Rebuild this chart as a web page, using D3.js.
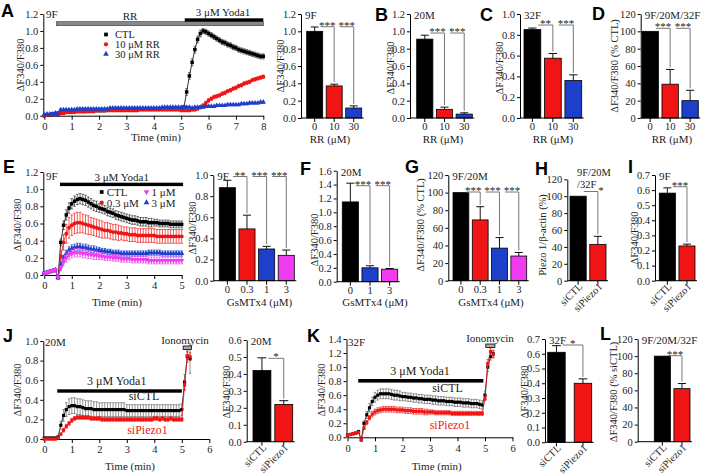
<!DOCTYPE html>
<html>
<head>
<meta charset="utf-8">
<script src="https://cdn.jsdelivr.net/npm/d3@7"></script>
<style>
  body { margin: 0; background: #fff; }
  svg text { font-family: "Liberation Serif", "Times New Roman", serif; fill: #222; }
  .letter { font-family: "Liberation Sans", Arial, sans-serif; font-weight: bold; font-size: 18px; fill: #000; }
</style>
</head>
<body>
<script>
// ---------- time courses ----------
const tA = [0,0.1,0.2,0.3,0.4,0.5,0.6,0.7,0.8,0.9,
  1,1.1,1.2,1.3,1.4,1.5,1.6,1.7,1.8,1.9,
  2,2.1,2.2,2.3,2.4,2.5,2.6,2.7,2.8,2.9,
  3,3.1,3.2,3.3,3.4,3.5,3.6,3.7,3.8,3.9,
  4,4.1,4.2,4.3,4.4,4.5,4.6,4.7,4.8,4.9,
  5,5.1,5.2,5.3,5.4,5.5,5.6,5.7,5.8,5.9,
  6,6.1,6.2,6.3,6.4,6.5,6.6,6.7,6.8,6.9,
  7,7.1,7.2,7.3,7.4,7.5,7.6,7.7,7.8,7.9,
  8];
const ctlA = [0.00,0.01,0.01,0.02,0.02,0.03,0.03,0.03,0.04,0.04,
  0.04,0.05,0.05,0.05,0.05,0.05,0.06,0.06,0.06,0.06,
  0.06,0.06,0.06,0.07,0.07,0.07,0.07,0.07,0.07,0.07,
  0.07,0.07,0.07,0.08,0.08,0.08,0.08,0.08,0.08,0.08,
  0.08,0.08,0.08,0.08,0.08,0.08,0.08,0.08,0.08,0.08,
  0.08,0.10,0.28,0.47,0.63,0.78,0.90,0.97,1.00,0.99,
  0.97,0.95,0.93,0.91,0.89,0.87,0.86,0.84,0.83,0.81,
  0.80,0.78,0.77,0.76,0.75,0.74,0.73,0.72,0.71,0.70,
  0.70];
const semCtlA = [0.01,0.01,0.01,0.01,0.01,0.01,0.01,0.01,0.01,0.01,
  0.01,0.01,0.01,0.01,0.01,0.01,0.01,0.01,0.01,0.01,
  0.01,0.01,0.01,0.01,0.01,0.01,0.01,0.01,0.01,0.01,
  0.01,0.01,0.01,0.01,0.01,0.01,0.01,0.01,0.01,0.01,
  0.01,0.01,0.01,0.01,0.01,0.01,0.01,0.01,0.01,0.01,
  0.01,0.02,0.04,0.04,0.04,0.04,0.04,0.04,0.03,0.03,
  0.03,0.03,0.03,0.03,0.03,0.03,0.03,0.03,0.03,0.03,
  0.03,0.03,0.03,0.03,0.03,0.03,0.03,0.03,0.03,0.03,
  0.03];
const rr10A = [0.00,0.01,0.01,0.02,0.02,0.03,0.03,0.03,0.04,0.04,
  0.04,0.04,0.05,0.05,0.05,0.05,0.05,0.05,0.05,0.06,
  0.06,0.06,0.06,0.06,0.06,0.06,0.06,0.06,0.06,0.06,
  0.06,0.06,0.06,0.06,0.06,0.07,0.07,0.07,0.07,0.07,
  0.07,0.07,0.07,0.07,0.07,0.07,0.07,0.07,0.07,0.07,
  0.06,0.06,0.06,0.06,0.07,0.07,0.08,0.10,0.12,0.15,
  0.18,0.20,0.22,0.23,0.24,0.26,0.27,0.29,0.30,0.32,
  0.33,0.35,0.36,0.38,0.39,0.40,0.42,0.43,0.44,0.45,
  0.46];
const semRr10A = [0.01,0.01,0.01,0.01,0.01,0.01,0.01,0.01,0.01,0.01,
  0.01,0.01,0.01,0.01,0.01,0.01,0.01,0.01,0.01,0.01,
  0.01,0.01,0.01,0.01,0.01,0.01,0.01,0.01,0.01,0.01,
  0.01,0.01,0.01,0.01,0.01,0.01,0.01,0.01,0.01,0.01,
  0.01,0.01,0.01,0.01,0.01,0.01,0.01,0.01,0.01,0.01,
  0.01,0.01,0.01,0.01,0.01,0.01,0.01,0.02,0.02,0.02,
  0.02,0.02,0.02,0.02,0.02,0.02,0.02,0.02,0.02,0.02,
  0.02,0.02,0.02,0.02,0.02,0.02,0.02,0.02,0.02,0.02,
  0.02];
const rr30A = [0.01,0.02,0.02,0.02,0.03,0.01,0.07,0.07,0.07,0.07,
  0.07,0.07,0.08,0.08,0.08,0.08,0.08,0.08,0.08,0.08,
  0.08,0.08,0.08,0.08,0.09,0.09,0.09,0.09,0.09,0.09,
  0.09,0.09,0.09,0.09,0.09,0.09,0.09,0.09,0.09,0.09,
  0.09,0.09,0.09,0.10,0.10,0.10,0.10,0.10,0.10,0.10,
  0.10,0.10,0.10,0.10,0.09,0.10,0.10,0.10,0.10,0.11,
  0.11,0.11,0.11,0.12,0.12,0.12,0.12,0.13,0.13,0.13,
  0.13,0.13,0.14,0.14,0.14,0.15,0.15,0.15,0.15,0.16,
  0.16];
const semRr30A = [0.01,0.01,0.01,0.01,0.01,0.01,0.01,0.01,0.01,0.01,
  0.01,0.01,0.01,0.01,0.01,0.01,0.01,0.01,0.01,0.01,
  0.01,0.01,0.01,0.01,0.01,0.01,0.01,0.01,0.01,0.01,
  0.01,0.01,0.01,0.01,0.01,0.01,0.01,0.01,0.01,0.01,
  0.01,0.01,0.01,0.01,0.01,0.01,0.01,0.01,0.01,0.01,
  0.01,0.01,0.01,0.01,0.01,0.01,0.01,0.01,0.01,0.01,
  0.01,0.01,0.01,0.01,0.01,0.01,0.01,0.01,0.01,0.01,
  0.01,0.01,0.01,0.01,0.01,0.01,0.01,0.01,0.01,0.01,
  0.01];

const tE = [0,0.1,0.2,0.3,0.4,0.5,0.6,0.7,0.8,0.9,
  1,1.1,1.2,1.3,1.4,1.5,1.6,1.7,1.8,1.9,
  2,2.1,2.2,2.3,2.4,2.5,2.6,2.7,2.8,2.9,
  3,3.1,3.2,3.3,3.4,3.5,3.6,3.7,3.8,3.9,
  4,4.1,4.2,4.3,4.4,4.5,4.6,4.7,4.8,4.9,
  5];
const ctlE = [0.02,0.03,0.04,0.05,0.06,-0.03,0.38,0.58,0.70,0.78,
  0.83,0.86,0.88,0.89,0.88,0.87,0.85,0.83,0.81,0.80,
  0.78,0.77,0.76,0.74,0.73,0.72,0.70,0.69,0.68,0.67,
  0.66,0.65,0.64,0.64,0.63,0.62,0.62,0.62,0.61,0.61,
  0.61,0.61,0.60,0.60,0.60,0.60,0.59,0.59,0.59,0.59,
  0.59];
const semCtlE = [0.01,0.01,0.01,0.01,0.01,0.02,0.04,0.05,0.06,0.06,
  0.06,0.06,0.06,0.06,0.06,0.06,0.06,0.06,0.06,0.06,
  0.05,0.05,0.05,0.05,0.05,0.05,0.05,0.05,0.05,0.05,
  0.05,0.05,0.05,0.05,0.05,0.05,0.05,0.05,0.05,0.05,
  0.04,0.04,0.04,0.04,0.04,0.04,0.04,0.04,0.04,0.04,
  0.04];
const gs03E = [0.02,0.03,0.04,0.05,0.06,-0.03,0.22,0.38,0.48,0.55,
  0.58,0.60,0.61,0.61,0.60,0.59,0.58,0.57,0.56,0.55,
  0.54,0.53,0.52,0.52,0.51,0.50,0.50,0.49,0.49,0.48,
  0.48,0.47,0.47,0.47,0.46,0.46,0.46,0.46,0.46,0.46,
  0.46,0.45,0.45,0.45,0.45,0.45,0.45,0.45,0.45,0.45,
  0.45];
const semGs03E = [0.01,0.01,0.01,0.01,0.01,0.02,0.06,0.09,0.11,0.12,
  0.12,0.12,0.12,0.12,0.11,0.11,0.11,0.10,0.10,0.10,
  0.10,0.10,0.09,0.09,0.09,0.09,0.09,0.09,0.08,0.08,
  0.08,0.08,0.08,0.08,0.08,0.08,0.08,0.08,0.08,0.08,
  0.08,0.08,0.08,0.08,0.08,0.08,0.08,0.08,0.08,0.08,
  0.08];
const gs1E = [0.02,0.03,0.04,0.05,0.06,-0.03,0.08,0.15,0.20,0.23,
  0.25,0.26,0.26,0.26,0.25,0.25,0.24,0.24,0.23,0.23,
  0.22,0.22,0.21,0.21,0.21,0.20,0.20,0.20,0.19,0.19,
  0.19,0.19,0.18,0.18,0.18,0.18,0.18,0.18,0.17,0.17,
  0.17,0.17,0.17,0.17,0.17,0.17,0.17,0.17,0.17,0.17,
  0.17];
const semGs1E = [0.01,0.01,0.01,0.01,0.01,0.02,0.03,0.04,0.05,0.05,
  0.05,0.05,0.05,0.05,0.05,0.05,0.05,0.05,0.05,0.05,
  0.04,0.04,0.04,0.04,0.04,0.04,0.04,0.04,0.04,0.04,
  0.04,0.04,0.04,0.04,0.04,0.04,0.04,0.04,0.04,0.04,
  0.04,0.04,0.04,0.04,0.04,0.04,0.04,0.04,0.04,0.04,
  0.04];
const gs3E = [0.02,0.03,0.04,0.05,0.06,-0.03,0.12,0.20,0.25,0.29,
  0.31,0.32,0.33,0.33,0.32,0.32,0.31,0.30,0.30,0.29,
  0.29,0.28,0.28,0.27,0.27,0.26,0.26,0.26,0.25,0.25,
  0.25,0.25,0.25,0.25,0.25,0.25,0.25,0.25,0.26,0.26,
  0.26,0.26,0.26,0.25,0.25,0.25,0.25,0.25,0.25,0.25,
  0.25];
const semGs3E = [0.01,0.01,0.01,0.01,0.01,0.02,0.03,0.03,0.04,0.04,
  0.04,0.04,0.04,0.04,0.04,0.04,0.04,0.04,0.04,0.04,
  0.03,0.03,0.03,0.03,0.03,0.03,0.03,0.03,0.03,0.03,
  0.03,0.03,0.03,0.03,0.03,0.03,0.03,0.03,0.03,0.03,
  0.03,0.03,0.03,0.03,0.03,0.03,0.03,0.03,0.03,0.03,
  0.03];

const tJK = [0,0.1,0.2,0.3,0.4,0.5,0.6,0.7,0.8,0.9,
  1,1.1,1.2,1.3,1.4,1.5,1.6,1.7,1.8,1.9,
  2,2.1,2.2,2.3,2.4,2.5,2.6,2.7,2.8,2.9,
  3,3.1,3.2,3.3,3.4,3.5,3.6,3.7,3.8,3.9,
  4,4.1,4.2,4.3,4.4,4.5,4.6,4.7,4.8,4.9,
  5,5.1,5.2,5.3];
const siCtlJ = [0.01,0.01,0.01,0.01,0.01,0.02,0.14,0.24,0.30,0.33,
  0.34,0.34,0.33,0.33,0.32,0.31,0.31,0.31,0.30,0.30,
  0.30,0.30,0.30,0.30,0.30,0.30,0.30,0.30,0.30,0.30,
  0.29,0.29,0.29,0.29,0.29,0.29,0.29,0.29,0.29,0.29,
  0.29,0.29,0.29,0.29,0.29,0.29,0.29,0.29,0.29,0.29,
  0.30,0.58,0.84,0.82];
const semSiCtlJ = [0.01,0.01,0.01,0.01,0.01,0.01,0.04,0.06,0.07,0.08,
  0.08,0.08,0.08,0.08,0.08,0.08,0.08,0.08,0.08,0.08,
  0.07,0.07,0.07,0.07,0.07,0.07,0.07,0.07,0.07,0.07,
  0.06,0.06,0.06,0.06,0.06,0.06,0.06,0.06,0.06,0.06,
  0.06,0.06,0.06,0.06,0.06,0.06,0.06,0.06,0.06,0.06,
  0.06,0.08,0.06,0.15];
const siPiezoJ = [0.00,0.00,0.00,0.00,0.00,0.01,0.05,0.09,0.13,0.16,
  0.19,0.21,0.22,0.22,0.22,0.22,0.22,0.21,0.21,0.21,
  0.21,0.20,0.20,0.20,0.20,0.20,0.20,0.20,0.20,0.20,
  0.20,0.20,0.20,0.20,0.20,0.20,0.20,0.20,0.20,0.20,
  0.21,0.21,0.20,0.21,0.20,0.20,0.21,0.20,0.20,0.20,
  0.20,0.55,0.85,0.84];
const semSiPiezoJ = [0.01,0.01,0.01,0.01,0.01,0.01,0.01,0.02,0.02,0.02,
  0.02,0.02,0.02,0.02,0.02,0.02,0.02,0.02,0.02,0.02,
  0.02,0.02,0.02,0.02,0.02,0.02,0.02,0.02,0.02,0.02,
  0.02,0.02,0.02,0.02,0.02,0.02,0.02,0.02,0.02,0.02,
  0.02,0.02,0.02,0.02,0.02,0.02,0.02,0.02,0.02,0.02,
  0.02,0.05,0.04,0.04];
const siCtlK = [0.03,0.04,0.05,0.06,0.08,-0.03,0.20,0.32,0.42,0.51,
  0.57,0.60,0.62,0.62,0.62,0.62,0.61,0.60,0.60,0.59,
  0.58,0.58,0.57,0.57,0.56,0.56,0.55,0.55,0.54,0.54,
  0.54,0.53,0.53,0.52,0.52,0.52,0.51,0.51,0.51,0.50,
  0.50,0.50,0.49,0.49,0.49,0.48,0.48,0.48,0.47,0.46,
  0.60,1.00,1.15,1.19];
const semSiCtlK = [0.01,0.01,0.01,0.01,0.02,0.02,0.03,0.05,0.06,0.06,
  0.07,0.07,0.07,0.07,0.07,0.07,0.07,0.07,0.07,0.07,
  0.06,0.06,0.06,0.06,0.06,0.06,0.06,0.06,0.06,0.06,
  0.06,0.06,0.06,0.06,0.06,0.06,0.06,0.06,0.06,0.06,
  0.06,0.06,0.06,0.06,0.06,0.06,0.06,0.06,0.06,0.06,
  0.06,0.06,0.05,0.05];
const siPiezoK = [0.03,0.04,0.05,0.06,0.07,-0.04,0.13,0.21,0.28,0.33,
  0.36,0.38,0.39,0.40,0.40,0.40,0.40,0.40,0.39,0.39,
  0.39,0.38,0.38,0.38,0.37,0.37,0.37,0.37,0.36,0.36,
  0.36,0.36,0.35,0.35,0.35,0.35,0.35,0.35,0.34,0.34,
  0.34,0.34,0.34,0.34,0.34,0.34,0.34,0.34,0.34,0.34,
  0.55,1.05,1.22,1.18];
const semSiPiezoK = [0.01,0.01,0.01,0.01,0.01,0.02,0.02,0.03,0.03,0.04,
  0.04,0.04,0.04,0.04,0.04,0.04,0.04,0.04,0.04,0.04,
  0.04,0.04,0.04,0.04,0.04,0.04,0.04,0.04,0.04,0.04,
  0.03,0.03,0.03,0.03,0.03,0.03,0.03,0.03,0.03,0.03,
  0.03,0.03,0.03,0.03,0.03,0.03,0.03,0.03,0.03,0.03,
  0.03,0.06,0.05,0.05];

// ---------- bar graphs ----------
const rrDoses = ["0", "10", "30"];
const rr9F = [1.00, 0.37, 0.115], rr9FSem = [0.05, 0.02, 0.025];
const rr20M = [0.91, 0.10, 0.045], rr20MSem = [0.045, 0.025, 0.015];
const rr32F = [0.85, 0.575, 0.36], rr32FSem = [0.015, 0.045, 0.055];
const rrPooled = [100, 39, 20], rrPooledSem = [0, 17, 12];
const gsDoses = ["0", "0.3", "1", "3"];
const gs9F = [0.88, 0.49, 0.30, 0.24], gs9FSem = [0.07, 0.13, 0.025, 0.05];
const gsDoses20M = ["0", "1", "3"];
const gs20M = [1.15, 0.20, 0.18], gs20MSem = [0.27, 0.03, 0.01];
const gsPooled = [100, 69, 37, 28], gsPooledSem = [0, 15, 12, 4];
const siGroups = ["siCTL", "siPiezo1"];
const knockdown = [100, 43], knockdownSem = [0, 9.5];
const si9F = [0.58, 0.23], si9FSem = [0.035, 0.012];
const si20M = [0.42, 0.22], si20MSem = [0.075, 0.022];
const si32F = [0.61, 0.40], si32FSem = [0.045, 0.03];
const siPooled = [100, 62], siPooledSem = [0, 6];

const BLACK = "#000", RED = "#f01414", BLUE = "#1d3fc9", MAG = "#f03cf0";
const SERIF = "'Liberation Serif', 'Times New Roman', serif";
const TICK_FONT = 10.5;

const svg = d3.select("body").append("svg").attr("width", 709).attr("height", 474);
svg.append("rect").attr("width", 709).attr("height", 474).attr("fill", "#fff");

function styleAxis(ax) {
  ax.attr("font-family", SERIF).attr("font-size", TICK_FONT);
  ax.selectAll("text").attr("fill", "#222");
}

function text(x, y, s, opts = {}) {
  return svg.append("text").attr("x", x).attr("y", y).text(s)
    .attr("text-anchor", opts.anchor || "start")
    .attr("font-size", opts.size || 11)
    .style("fill", opts.color || "#222");
}

function yTitle(x, y, s) {
  svg.append("text").attr("transform", `translate(${x + 4},${y}) rotate(-90)`)
    .attr("text-anchor", "middle").attr("font-size", 10.5).text(s);
}

function letter(x, y, s) {
  svg.append("text").attr("class", "letter").attr("x", x).attr("y", y).text(s);
}

function barPanel(o) {
  const g = svg.append("g");
  const x = d3.scaleBand().domain(o.cats).range(o.xr).paddingInner(o.pad || 0.18);
  const y = d3.scaleLinear().domain([0, o.max]).range([o.y0, o.y1]);
  const bw = x.bandwidth();
  const cx = i => x(o.cats[i]) + bw / 2;

  g.append("path")
    .attr("d", o.vals.map((d, i) => {
      if (!o.sem[i]) return "";
      const t = y(d + o.sem[i]);
      return `M${cx(i)},${y(d)}V${t}M${cx(i) - bw / 4},${t}H${cx(i) + bw / 4}`;
    }).join(""))
    .attr("stroke", "#111").attr("fill", "none");

  g.selectAll("rect").data(o.vals).join("rect")
    .attr("x", (d, i) => x(o.cats[i]))
    .attr("y", d => y(d))
    .attr("width", bw)
    .attr("height", d => y(0) - y(d))
    .attr("fill", (d, i) => o.colors[i])
    .attr("stroke", "#000").attr("stroke-width", 0.8);

  const ax = g.append("g").attr("transform", `translate(${o.ax},0)`)
    .call(d3.axisLeft(y).tickValues(d3.range(0, o.max + o.step / 2, o.step))
      .tickFormat(d3.format(o.fmt)).tickSize(3).tickPadding(2).tickSizeOuter(0));
  styleAxis(ax);

  g.append("path")
    .attr("d", `M${o.ax},${y(0)}H${o.xr[1] + 2}` + o.cats.map((c, i) => `M${cx(i)},${y(0)}v4`).join(""))
    .attr("stroke", "#000").attr("fill", "none");

  if (o.rotate) {
    g.selectAll(".xl").data(o.cats).join("text")
      .attr("text-anchor", "end").attr("font-size", 10.5)
      .attr("transform", (c, i) => `translate(${cx(i) + 5},${y(0) + 6.5}) rotate(-45)`)
      .text(c => c);
  } else {
    g.selectAll(".xl").data(o.cats).join("text")
      .attr("text-anchor", "middle").attr("font-size", TICK_FONT)
      .attr("x", (c, i) => cx(i)).attr("y", y(0) + 12)
      .text(c => c);
    text(o.titleX, o.titleY, o.title, { anchor: "middle" });
  }

  (o.sig || []).forEach(s => {
    const x1 = cx(s.a) + bw * 0.35, x2 = cx(s.b);
    const bottom = y(o.vals[s.b] + o.sem[s.b]) - 2;
    g.append("path").attr("d", `M${x1},${s.y}H${x2}V${bottom}`)
      .attr("stroke", "#777").attr("fill", "none");
    text(s.tx || (x1 + x2) / 2, s.y + 2, s.txt, { anchor: "middle" });
  });

  if (o.tag) text(o.ax + 4, o.y1 + 5, o.tag);
  return { x, y };
}

const shapes = {
  square: d3.symbolSquare, circle: d3.symbolCircle, tri: d3.symbolTriangle, down: d3.symbolTriangle
};

function marker(g, shape, color, px, py, size) {
  g.append("path")
    .attr("transform", `translate(${px},${py})` + (shape === "down" ? " rotate(180)" : ""))
    .attr("d", d3.symbol(shapes[shape], size || 12)())
    .attr("fill", color);
}

function tracePanel(o) {
  const g = svg.append("g");
  const x = d3.scaleLinear().domain([0, o.tmax]).range(o.xr);
  const y = d3.scaleLinear().domain([0, o.ymax]).range(o.yr);

  const xa = g.append("g").attr("transform", `translate(0,${o.yr[0]})`)
    .call(d3.axisBottom(x).tickValues(d3.range(0, o.tmax + 1)).tickFormat(d3.format("d"))
      .tickSize(4).tickPadding(3).tickSizeOuter(0));
  styleAxis(xa);
  const ya = g.append("g").attr("transform", `translate(${o.xr[0] - 1},0)`)
    .call(d3.axisLeft(y).tickValues(d3.range(0, o.ymax + 0.1, 0.2)).tickFormat(d3.format(".1f"))
      .tickSize(3).tickPadding(2).tickSizeOuter(0));
  styleAxis(ya);

  o.series.forEach(s => {
    const pts = o.t.map((t, i) => ({ t, v: s.v[i], e: s.e[i] }));
    g.append("path").datum(pts)
      .attr("d", d3.line().x(d => x(d.t)).y(d => y(d.v)))
      .attr("fill", "none").attr("stroke", s.color).attr("stroke-width", 0.8);
    g.append("path")
      .attr("d", pts.map(d => {
        const px = x(d.t), a = y(d.v + d.e), b = y(d.v - d.e);
        return `M${px},${a}V${b}M${px - 1.3},${a}h2.6M${px - 1.3},${b}h2.6`;
      }).join(""))
      .attr("stroke", s.err || s.color).attr("stroke-width", 0.7).attr("fill", "none");
    pts.forEach(d => marker(g, s.shape, s.color, x(d.t), y(d.v), s.size));
  });
  return { x, y, g };
}

// ---------------- row 1 ----------------
letter(1, 17, "A");
const pA = tracePanel({
  t: tA, tmax: 8, ymax: 1.2, xr: [44.3, 263.3], yr: [115.7, 14],
  series: [
    { v: ctlA, e: semCtlA, color: BLACK, err: "#333", shape: "square" },
    { v: rr10A, e: semRr10A, color: RED, shape: "circle" },
    { v: rr30A, e: semRr30A, color: BLUE, shape: "tri" }
  ]
});
svg.append("rect").attr("x", pA.x(0.45)).attr("y", 21.7).attr("width", pA.x(8) - pA.x(0.45)).attr("height", 4)
  .attr("fill", "#888").attr("stroke", "#333").attr("stroke-width", 0.6);
svg.append("rect").attr("x", pA.x(5.13)).attr("y", 18.3).attr("width", pA.x(8) - pA.x(5.13)).attr("height", 3.4)
  .attr("fill", "#000");
text(130, 20, "RR", { anchor: "middle" });
text(223, 16, "3 μM Yoda1", { anchor: "middle" });
text(46, 18, "9F");
[["square", BLACK, "CTL", 34.5], ["circle", RED, "10 μM RR", 44.3], ["tri", BLUE, "30 μM RR", 54]].forEach(l => {
  marker(svg, l[0], l[1], 106, l[3], 14);
  text(115, l[3] + 3.5, l[2], { size: 10.5 });
});
yTitle(20, 65, "ΔF340/F380");
text(156, 141, "Time  (min)", { anchor: "middle" });

barPanel({ cats: rrDoses, vals: rr9F, sem: rr9FSem, colors: [BLACK, RED, BLUE],
  ax: 301, xr: [306.7, 361.7], y0: 118, y1: 14, max: 1.2, step: 0.2, fmt: ".1f",
  title: "RR (μM)", titleX: 330, titleY: 142.5, tag: "9F",
  sig: [{ a: 0, b: 1, y: 26.7, txt: "***" }, { a: 1, b: 2, y: 26.7, txt: "***" }] });
yTitle(280, 66, "ΔF340/F380");

letter(375, 21, "B");
barPanel({ cats: rrDoses, vals: rr20M, sem: rr20MSem, colors: [BLACK, RED, BLUE],
  ax: 410, xr: [416.7, 472.3], y0: 118, y1: 14, max: 1.2, step: 0.2, fmt: ".1f",
  title: "RR (μM)", titleX: 443, titleY: 142.5, tag: "20M",
  sig: [{ a: 0, b: 1, y: 33, txt: "***" }, { a: 1, b: 2, y: 33, txt: "***" }] });
yTitle(389.5, 68, "ΔF340/F380");

letter(480, 21, "C");
barPanel({ cats: rrDoses, vals: rr32F, sem: rr32FSem, colors: [BLACK, RED, BLUE],
  ax: 520, xr: [524, 581.7], y0: 118, y1: 14, max: 1.0, step: 0.2, fmt: ".1f",
  title: "RR (μM)", titleX: 553, titleY: 142.5, tag: "32F",
  sig: [{ a: 0, b: 1, y: 25, txt: "**" }, { a: 1, b: 2, y: 25, txt: "***" }] });
yTitle(499, 68, "ΔF340/F380");

letter(592, 20, "D");
barPanel({ cats: rrDoses, vals: rrPooled, sem: rrPooledSem, colors: [BLACK, RED, BLUE],
  ax: 640.7, xr: [642, 698.3], y0: 118, y1: 14, max: 120, step: 20, fmt: "d",
  title: "RR (μM)", titleX: 672, titleY: 142.5, tag: "9F/20M/32F",
  sig: [{ a: 0, b: 1, y: 28.3, txt: "***" }, { a: 1, b: 2, y: 28.3, txt: "***" }] });
yTitle(614, 66, "ΔF340/F380 (% CTL)");

// ---------------- row 2 ----------------
letter(3, 173, "E");
const pE = tracePanel({
  t: tE, tmax: 5, ymax: 1.2, xr: [44.3, 181.7], yr: [275, 172],
  series: [
    { v: ctlE, e: semCtlE, color: BLACK, err: "#333", shape: "square" },
    { v: gs03E, e: semGs03E, color: RED, shape: "circle" },
    { v: gs3E, e: semGs3E, color: BLUE, shape: "tri" },
    { v: gs1E, e: semGs1E, color: MAG, shape: "down" }
  ]
});
svg.append("rect").attr("x", pE.x(0.57)).attr("y", 182.7).attr("width", pE.x(5.05) - pE.x(0.57)).attr("height", 3.4)
  .attr("fill", "#000");
text(121.7, 180.5, "3 μM Yoda1", { anchor: "middle" });
text(46, 180, "9F");
[["square", BLACK, "CTL", 101.7, 192], ["circle", RED, "0.3 μM", 101.7, 202.6],
 ["down", MAG, "1 μM", 146.5, 192], ["tri", BLUE, "3 μM", 146.5, 202.6]].forEach(l => {
  marker(svg, l[0], l[1], l[3], l[4], 14);
  text(l[3] + 5, l[4] + 4, l[2], { size: 11 });
});
yTitle(17, 225, "ΔF340/F380");
text(117, 306, "Time  (min)", { anchor: "middle" });

barPanel({ cats: gsDoses, vals: gs9F, sem: gs9FSem, colors: [BLACK, RED, BLUE, MAG],
  ax: 213.3, xr: [219.3, 294.3], y0: 280.7, y1: 175, max: 1.0, step: 0.2, fmt: ".1f",
  title: "GsMTx4  (μM)", titleX: 259.5, titleY: 306, tag: "9F",
  sig: [{ a: 0, b: 1, y: 176.5, txt: "**" }, { a: 1, b: 2, y: 176.5, txt: "***" }, { a: 2, b: 3, y: 176.5, txt: "***" }] });
yTitle(192, 228, "ΔF340/F380");

letter(300, 175, "F");
barPanel({ cats: gsDoses20M, vals: gs20M, sem: gs20MSem, colors: [BLACK, BLUE, MAG],
  ax: 336.7, xr: [342.3, 397.7], y0: 281.7, y1: 170.7, max: 1.6, step: 0.2, fmt: ".1f",
  title: "GsMTx4  (μM)", titleX: 375, titleY: 306, tag: "20M",
  sig: [{ a: 0, b: 1, y: 185.7, txt: "***" }, { a: 1, b: 2, y: 185.7, txt: "***" }] });
yTitle(314, 240, "ΔF340/F380");

letter(405, 173, "G");
barPanel({ cats: gsDoses, vals: gsPooled, sem: gsPooledSem, colors: [BLACK, RED, BLUE, MAG],
  ax: 448.3, xr: [453, 526.7], y0: 280.7, y1: 175, max: 120, step: 20, fmt: "d",
  title: "GsMTx4  (μM)", titleX: 491, titleY: 306, tag: "9F/20M",
  sig: [{ a: 0, b: 1, y: 192, txt: "***" }, { a: 1, b: 2, y: 192, txt: "***" }, { a: 2, b: 3, y: 192, txt: "***" }] });
yTitle(420, 225, "ΔF340/F380 (% CTL)");

letter(535, 175, "H");
barPanel({ cats: siGroups, vals: knockdown, sem: knockdownSem, colors: [BLACK, RED], rotate: true,
  ax: 567.3, xr: [570, 606], y0: 280.7, y1: 179.3, max: 120, step: 20, fmt: "d",
  sig: [{ a: 0, b: 1, y: 191.5, txt: "*", tx: 601 }] });
text(577, 176, "9F/20M", { size: 10.5 });
text(577, 188, "/32F", { size: 10.5 });
yTitle(542, 235, "Piezo 1/β-actin  (%)");

letter(628, 173, "I");
barPanel({ cats: siGroups, vals: si9F, sem: si9FSem, colors: [BLACK, RED], rotate: true,
  ax: 655, xr: [659.3, 695], y0: 280.7, y1: 175, max: 0.7, step: 0.1, fmt: ".1f",
  tag: "9F",
  sig: [{ a: 0, b: 1, y: 186.7, txt: "***" }] });
yTitle(634, 238, "ΔF340/F380");

// ---------------- row 3 ----------------
letter(3, 342, "J");
const pJ = tracePanel({
  t: tJK, tmax: 6, ymax: 1.0, xr: [44.3, 209.3], yr: [439, 341],
  series: [
    { v: siCtlJ, e: semSiCtlJ, color: BLACK, err: "#666", shape: "square", size: 10 },
    { v: siPiezoJ, e: semSiPiezoJ, color: RED, shape: "square", size: 10 }
  ]
});
svg.append("rect").attr("x", pJ.x(0.47)).attr("y", 389.3).attr("width", pJ.x(5.0) - pJ.x(0.47)).attr("height", 3.4)
  .attr("fill", "#000");
svg.append("rect").attr("x", pJ.x(5.05)).attr("y", 346).attr("width", pJ.x(5.35) - pJ.x(5.05)).attr("height", 3.5)
  .attr("fill", "#aaa").attr("stroke", "#000").attr("stroke-width", 0.8);
text(116.7, 385, "3 μM Yoda1", { anchor: "middle", size: 12 });
text(144, 400, "siCTL", { anchor: "middle", size: 12 });
text(147.5, 434, "siPiezo1", { anchor: "middle", size: 12, color: RED });
text(185, 343.5, "Ionomycin", { anchor: "middle" });
text(45, 346, "20M");
yTitle(16.7, 390, "ΔF340/F380");
text(130, 470, "Time  (min)", { anchor: "middle" });

barPanel({ cats: siGroups, vals: si20M, sem: si20MSem, colors: [BLACK, RED], rotate: true,
  ax: 246.7, xr: [253, 292.7], y0: 441.7, y1: 340, max: 0.6, step: 0.1, fmt: ".1f",
  tag: "20M",
  sig: [{ a: 0, b: 1, y: 358.3, txt: "*" }] });
yTitle(226, 392, "ΔF340/F380");

letter(307, 342, "K");
const pK = tracePanel({
  t: tJK, tmax: 6, ymax: 1.4, xr: [347.5, 512.5], yr: [437.3, 339],
  series: [
    { v: siCtlK, e: semSiCtlK, color: BLACK, err: "#666", shape: "square", size: 10 },
    { v: siPiezoK, e: semSiPiezoK, color: RED, shape: "square", size: 10 }
  ]
});
svg.append("rect").attr("x", pK.x(0.39)).attr("y", 379).attr("width", pK.x(4.94) - pK.x(0.39)).attr("height", 3.6)
  .attr("fill", "#000");
svg.append("rect").attr("x", pK.x(5.03)).attr("y", 344).attr("width", pK.x(5.36) - pK.x(5.03)).attr("height", 3.5)
  .attr("fill", "#aaa").attr("stroke", "#000").attr("stroke-width", 0.8);
text(420, 375, "3 μM Yoda1", { anchor: "middle", size: 12 });
text(447.5, 392, "siCTL", { anchor: "middle", size: 12 });
text(450, 429, "siPiezo1", { anchor: "middle", size: 12, color: RED });
text(490, 342, "Ionomycin", { anchor: "middle" });
text(348, 346, "32F");
yTitle(321, 390, "ΔF340/F380");
text(436.7, 470, "Time  (min)", { anchor: "middle" });

barPanel({ cats: siGroups, vals: si32F, sem: si32FSem, colors: [BLACK, RED], rotate: true, pad: 0.34,
  ax: 545, xr: [547.7, 591.7], y0: 442.3, y1: 339, max: 0.7, step: 0.1, fmt: ".1f",
  tag: "32F",
  sig: [{ a: 0, b: 1, y: 345, txt: "*" }] });
yTitle(524, 392, "ΔF340/F380");

letter(600, 340, "L");
barPanel({ cats: siGroups, vals: siPooled, sem: siPooledSem, colors: [BLACK, RED], rotate: true,
  ax: 637.7, xr: [654.3, 690], y0: 441.7, y1: 339, max: 120, step: 20, fmt: "d",
  tag: "9F/20M/32F",
  sig: [{ a: 0, b: 1, y: 355.7, txt: "***" }] });
yTitle(613, 392, "ΔF340/F380 (% siCTL)");
</script>
</body>
</html>
